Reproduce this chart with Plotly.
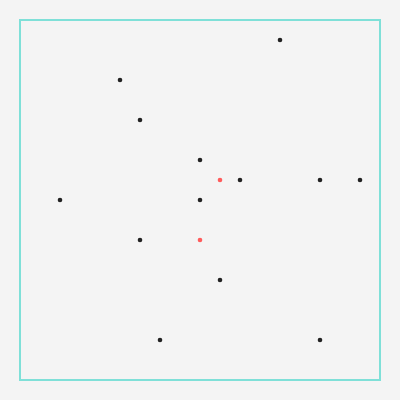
import plotly.graph_objects as go

black_x = [13, 5, 6, 9, 11, 15, 17, 2, 9, 6, 10, 7, 15]
black_y = [17, 15, 13, 11, 10, 10, 10, 9, 9, 7, 5, 2, 2]
red_x = [10, 9]
red_y = [10, 7]

fig = go.Figure()
fig.add_trace(go.Scatter(x=black_x, y=black_y, mode="markers",
                         marker=dict(size=4.6, color="#222222", line=dict(width=0)),
                         hoverinfo="skip"))
fig.add_trace(go.Scatter(x=red_x, y=red_y, mode="markers",
                         marker=dict(size=4.6, color="#ff5c5c", line=dict(width=0)),
                         hoverinfo="skip"))
fig.add_shape(type="rect", x0=0, y0=0, x1=18, y1=18,
              line=dict(color="#7fe0d8", width=2), layer="below")
fig.update_layout(width=400, height=400, margin=dict(l=0, r=0, t=0, b=0),
                  paper_bgcolor="#f4f4f4", plot_bgcolor="#f4f4f4",
                  showlegend=False,
                  xaxis=dict(range=[-1, 19], visible=False, fixedrange=True),
                  yaxis=dict(range=[-1, 19], visible=False, fixedrange=True))
fig.write_html("out.html", config={"displayModeBar": False})
